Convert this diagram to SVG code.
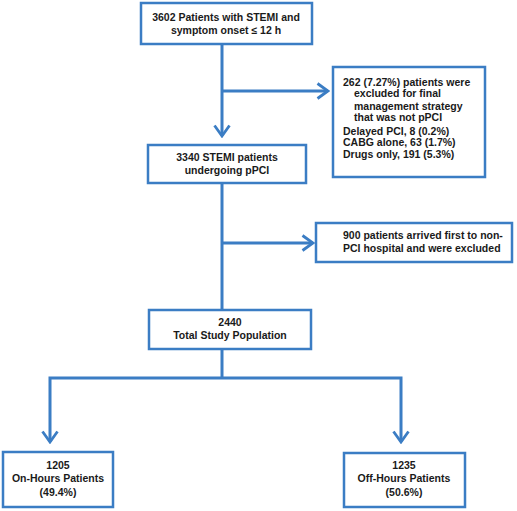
<svg xmlns="http://www.w3.org/2000/svg" width="517" height="511" viewBox="0 0 517 511">
<style>
.box{fill:#fff;stroke:#3B7DC4;stroke-width:2.5}
.ln{fill:none;stroke:#3B7DC4;stroke-width:3}
text{font-family:"Liberation Sans",Arial,sans-serif;font-size:10.5px;fill:#1a1a1a;font-weight:bold}
.c{text-anchor:middle}
</style>
<defs>
<marker id="ah" viewBox="0 0 14 18" refX="12" refY="9" markerWidth="14" markerHeight="18" markerUnits="userSpaceOnUse" orient="auto">
<polyline points="1.5,1.5 12,9 1.5,16.5" fill="none" stroke="#3B7DC4" stroke-width="2.8"/>
</marker>
</defs>
<rect width="517" height="511" fill="#fff"/>
<g id="connectors">
<line class="ln" x1="222" y1="44" x2="222" y2="136" marker-end="url(#ah)"/>
<line class="ln" x1="222" y1="91" x2="328" y2="91" marker-end="url(#ah)"/>
<line class="ln" x1="222" y1="183" x2="222" y2="310"/>
<line class="ln" x1="222" y1="243" x2="313" y2="243" marker-end="url(#ah)"/>
<line class="ln" x1="222" y1="349" x2="222" y2="378"/>
<polyline class="ln" points="222,378 50,378 50,442" marker-end="url(#ah)"/>
<polyline class="ln" points="222,378 401,378 401,442" marker-end="url(#ah)"/>
</g>
<g id="n1">
<rect class="box" x="141" y="3" width="171" height="41"/>
<text class="c" x="226" y="21">3602 Patients with STEMI and</text>
<text class="c" x="226" y="34">symptom onset  ≤ 12 h</text>
</g>
<g id="n2">
<rect class="box" x="333" y="67" width="152" height="110"/>
<text x="343" y="86">262 (7.27%) patients were</text>
<text x="354" y="97">excluded for final</text>
<text x="354" y="110">management strategy</text>
<text x="354" y="121">that was not pPCI</text>
<text x="343" y="135">Delayed PCI, 8 (0.2%)</text>
<text x="343" y="146">CABG alone, 63 (1.7%)</text>
<text x="343" y="158">Drugs only, 191 (5.3%)</text>
</g>
<g id="n3">
<rect class="box" x="148" y="145" width="158" height="38"/>
<text class="c" x="227" y="161">3340 STEMI patients</text>
<text class="c" x="227" y="174">undergoing pPCI</text>
</g>
<g id="n4">
<rect class="box" x="316" y="223" width="196" height="39"/>
<text x="343" y="239">900 patients arrived first to non-</text>
<text x="343" y="252">PCI hospital and were excluded</text>
</g>
<g id="n5">
<rect class="box" x="149" y="310" width="162" height="39"/>
<text class="c" x="230" y="326">2440</text>
<text class="c" x="230" y="339">Total Study Population</text>
</g>
<g id="n6">
<rect class="box" x="3" y="452" width="110" height="55"/>
<text class="c" x="58" y="469">1205</text>
<text class="c" x="58" y="482">On-Hours Patients</text>
<text class="c" x="58" y="496">(49.4%)</text>
</g>
<g id="n7">
<rect class="box" x="344" y="453" width="121" height="54"/>
<text class="c" x="404" y="469">1235</text>
<text class="c" x="404" y="482">Off-Hours Patients</text>
<text class="c" x="404" y="496">(50.6%)</text>
</g>
</svg>
